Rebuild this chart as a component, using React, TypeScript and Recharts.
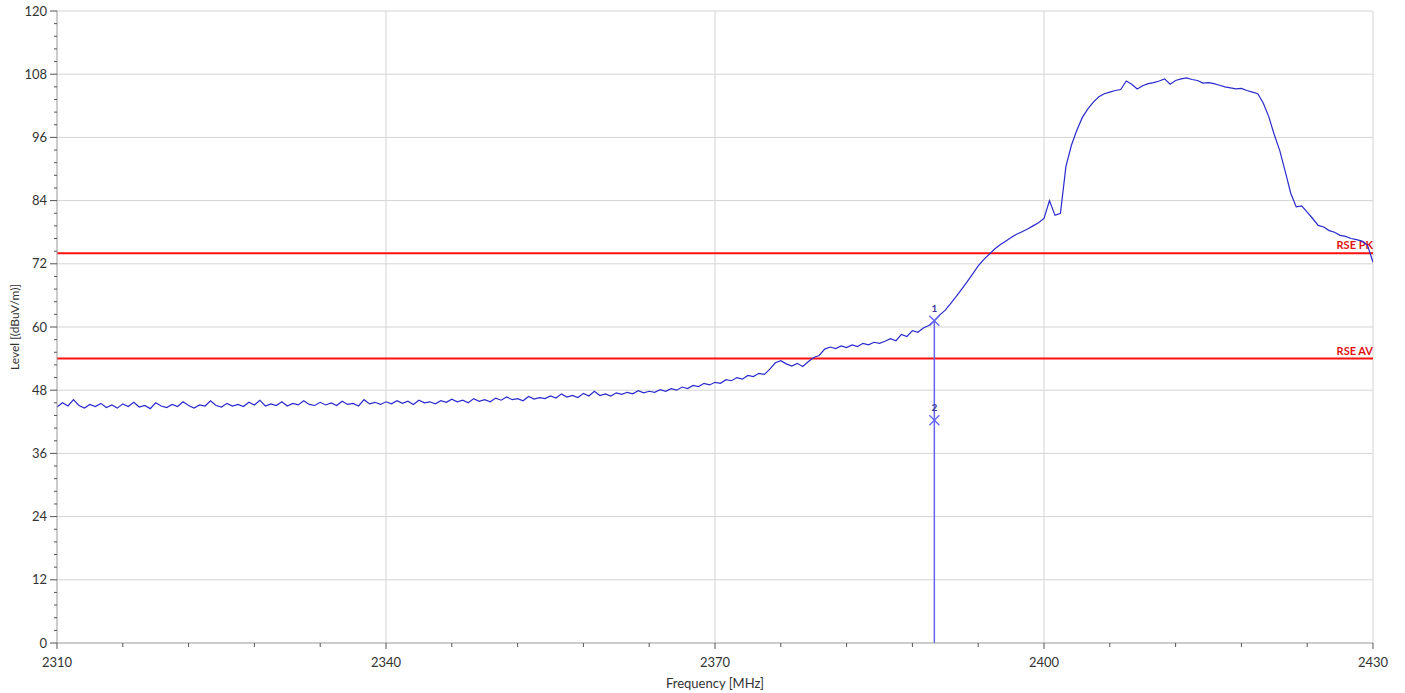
import {
    LineChart,
    Line,
    XAxis,
    YAxis,
    ReferenceLine,
    ReferenceDot,
} from 'recharts'

const FREQ_START = 2310
const FREQ_STEP = 0.5

// level in dBuV/m every 0.5 MHz, 2310 .. 2430
const LEVELS = [
    44.8, 45.6, 45.0, 46.2, 45.1, 44.6, 45.3, 44.9, 45.5, 44.7,
    45.2, 44.6, 45.4, 44.9, 45.7, 44.8, 45.1, 44.5, 45.6, 45.0,
    44.7, 45.3, 44.9, 45.8, 45.1, 44.6, 45.2, 45.0, 46.0, 45.1,
    44.8, 45.5, 45.0, 45.3, 44.9, 45.7, 45.2, 46.1, 45.0, 45.4,
    45.1, 45.8, 45.0, 45.5, 45.2, 46.0, 45.3, 45.1, 45.7, 45.2,
    45.6, 45.1, 45.9, 45.3, 45.5, 45.0, 46.2, 45.4, 45.7, 45.3,
    45.8, 45.4, 46.0, 45.5, 45.9, 45.3, 46.1, 45.6, 45.8, 45.4,
    46.0, 45.7, 46.3, 45.8, 46.1, 45.6, 46.4, 45.9, 46.2, 45.8,
    46.5, 46.1, 46.7, 46.2, 46.4, 46.0, 46.8, 46.3, 46.6, 46.4,
    46.9, 46.5, 47.3, 46.7, 47.0, 46.6, 47.4, 46.9, 47.8, 47.0,
    47.3, 46.9, 47.5, 47.2, 47.6, 47.3, 47.9, 47.5, 47.8, 47.6,
    48.1, 47.8, 48.3, 48.0, 48.6, 48.3, 48.9, 48.7, 49.3, 49.0,
    49.5, 49.3, 50.0, 49.8, 50.4, 50.1, 50.8, 50.6, 51.2, 51.0,
    52.0, 53.2, 53.6, 53.0, 52.6, 53.1, 52.5, 53.4, 54.2, 54.6,
    55.8, 56.2, 55.9, 56.4, 56.1, 56.6, 56.3, 56.9, 56.6, 57.1,
    56.9, 57.3, 57.8, 57.4, 58.6, 58.2, 59.3, 59.0, 59.8, 60.3,
    61.2, 62.3, 63.2, 64.5, 65.8, 67.2, 68.6, 70.1, 71.6, 72.8,
    73.8, 74.8, 75.6, 76.3, 77.0, 77.6, 78.1, 78.6, 79.2, 79.8,
    80.6, 84.0, 81.2, 81.6, 90.5, 94.5, 97.4, 99.8, 101.4, 102.7,
    103.7, 104.3, 104.6, 104.9, 105.1, 106.7, 106.1, 105.2, 105.8, 106.2,
    106.4, 106.7, 107.1, 106.1, 106.8, 107.1, 107.3, 107.0, 106.8, 106.3,
    106.4, 106.2, 105.9, 105.6, 105.4, 105.2, 105.3, 104.9, 104.6, 104.3,
    102.5, 99.9, 96.5, 93.5, 89.5, 85.4, 82.8, 83.0, 81.8, 80.6,
    79.3, 79.0, 78.3, 78.0, 77.4, 77.2, 76.8, 76.6, 76.3, 75.5,
    72.3,
]

const X_TICKS = [2310, 2340, 2370, 2400, 2430]
const X_MINOR_TICKS = [
    2316, 2322, 2328, 2334, 2346, 2352, 2358, 2364, 2376, 2382, 2388, 2394,
    2406, 2412, 2418, 2424,
]
const Y_TICKS = [0, 12, 24, 36, 48, 60, 72, 84, 96, 108, 120]
const Y_MINOR_TICKS = [
    2.4, 4.8, 7.2, 9.6, 14.4, 16.8, 19.2, 21.6, 26.4, 28.8, 31.2, 33.6, 38.4,
    40.8, 43.2, 45.6, 50.4, 52.8, 55.2, 57.6, 62.4, 64.8, 67.2, 69.6, 74.4,
    76.8, 79.2, 81.6, 86.4, 88.8, 91.2, 93.6, 98.4, 100.8, 103.2, 105.6, 110.4,
    112.8, 115.2, 117.6,
]

const LIMIT_NAMES = ['RSE PK', 'RSE AV']
const LIMIT_LEVELS = [74, 54]

const MARKER_FREQ = 2390
const MARKER_LABELS = ['1', '2']
const MARKER_LEVELS = [61.2, 42.3]

const data = LEVELS.map((level, i) => ({
    freq: FREQ_START + i * FREQ_STEP,
    level,
}))

const FONT = 'Lato, "Open Sans", sans-serif'
const GRID = '#d4d4d4'
const TRACE = '#2a2acc'
const MARKER = '#6464f0'

function YTick(props: any) {
    const { x, y, payload } = props
    const major = Y_TICKS.includes(payload.value)
    return (
        <g>
            <line
                x1={x - (major ? 7 : 3)}
                x2={x}
                y1={y}
                y2={y}
                stroke="#555"
                strokeWidth={1}
            />
            {major ? (
                <text
                    x={x - 10}
                    y={y + 4.5}
                    textAnchor="end"
                    fontSize={13}
                    fontFamily={FONT}
                    fill="#333"
                >
                    {payload.value}
                </text>
            ) : null}
        </g>
    )
}

function XTick(props: any) {
    const { x, y, payload } = props
    const major = X_TICKS.includes(payload.value)
    return (
        <g>
            <line
                x1={x}
                x2={x}
                y1={y}
                y2={y + (major ? 6 : 4)}
                stroke="#555"
                strokeWidth={1}
            />
            {major ? (
                <text
                    x={x}
                    y={y + 24}
                    textAnchor="middle"
                    fontSize={13}
                    fontFamily={FONT}
                    fill="#333"
                >
                    {payload.value}
                </text>
            ) : null}
        </g>
    )
}

function MarkerShape(props: any) {
    const { cx, cy, label } = props
    const s = 5
    return (
        <g>
            <line x1={cx - s} y1={cy - s} x2={cx + s} y2={cy + s} stroke={MARKER} strokeWidth={1.3} />
            <line x1={cx - s} y1={cy + s} x2={cx + s} y2={cy - s} stroke={MARKER} strokeWidth={1.3} />
            <text
                x={cx}
                y={cy - 9}
                textAnchor="middle"
                fontSize={10}
                fontWeight="bold"
                fontFamily={FONT}
                fill="#3a3a9a"
            >
                {label}
            </text>
        </g>
    )
}

function limitLabel(name: string) {
    return (p: any) => {
        const vb = p.viewBox
        return (
            <text
                x={vb.x + vb.width}
                y={vb.y - 4}
                textAnchor="end"
                fontSize={11}
                fontWeight="bold"
                fontFamily={FONT}
                fill="#e01010"
            >
                {name}
            </text>
        )
    }
}

export default function App() {
    return (
        <div style={{ position: 'absolute', left: 0, top: 0, background: '#fff' }}>
            <LineChart
                width={1405}
                height={693}
                data={data}
                margin={{ top: 11, right: 32, bottom: 0, left: 0 }}
            >
                <XAxis
                    dataKey="freq"
                    type="number"
                    domain={[2310, 2430]}
                    ticks={[...X_TICKS, ...X_MINOR_TICKS]}
                    interval={0}
                    height={50}
                    tickSize={0}
                    tickMargin={0}
                    tickLine={false}
                    tick={<XTick />}
                    axisLine={{ stroke: '#999' }}
                    allowDataOverflow
                    label={{
                        content: () => (
                            <text
                                x={715}
                                y={688}
                                textAnchor="middle"
                                fontSize={13}
                                fontFamily={FONT}
                                fill="#333"
                            >
                                Frequency [MHz]
                            </text>
                        ),
                    }}
                />
                <YAxis
                    type="number"
                    domain={[0, 120]}
                    ticks={[...Y_TICKS, ...Y_MINOR_TICKS]}
                    interval={0}
                    width={57}
                    tickSize={0}
                    tickMargin={0}
                    tickLine={false}
                    tick={<YTick />}
                    axisLine={{ stroke: '#999' }}
                    allowDataOverflow
                    label={{
                        content: () => (
                            <text
                                x={19}
                                y={327}
                                transform="rotate(-90 19 327)"
                                textAnchor="middle"
                                fontSize={12}
                                fontFamily={FONT}
                                fill="#333"
                            >
                                Level [(dBuV/m)]
                            </text>
                        ),
                    }}
                />
                {X_TICKS.slice(1).map((t) => (
                    <ReferenceLine key={'gx' + t} x={t} stroke={GRID} strokeWidth={1} />
                ))}
                {Y_TICKS.slice(1).map((t) => (
                    <ReferenceLine key={'gy' + t} y={t} stroke={GRID} strokeWidth={1} />
                ))}
                {LIMIT_LEVELS.map((lv, i) => (
                    <ReferenceLine
                        key={'lim' + i}
                        y={lv}
                        stroke="#ff1010"
                        strokeWidth={2}
                        label={limitLabel(LIMIT_NAMES[i])}
                    />
                ))}
                <Line
                    type="linear"
                    dataKey="level"
                    stroke={TRACE}
                    strokeWidth={1.2}
                    dot={false}
                    isAnimationActive={false}
                />
                <ReferenceLine
                    segment={[
                        { x: MARKER_FREQ, y: 0 },
                        { x: MARKER_FREQ, y: MARKER_LEVELS[0] },
                    ]}
                    stroke={MARKER}
                    strokeWidth={1.5}
                />
                {MARKER_LEVELS.map((lv, i) => (
                    <ReferenceDot
                        key={'m' + i}
                        x={MARKER_FREQ}
                        y={lv}
                        r={5}
                        shape={(p: any) => <MarkerShape {...p} label={MARKER_LABELS[i]} />}
                    />
                ))}
            </LineChart>
        </div>
    )
}
